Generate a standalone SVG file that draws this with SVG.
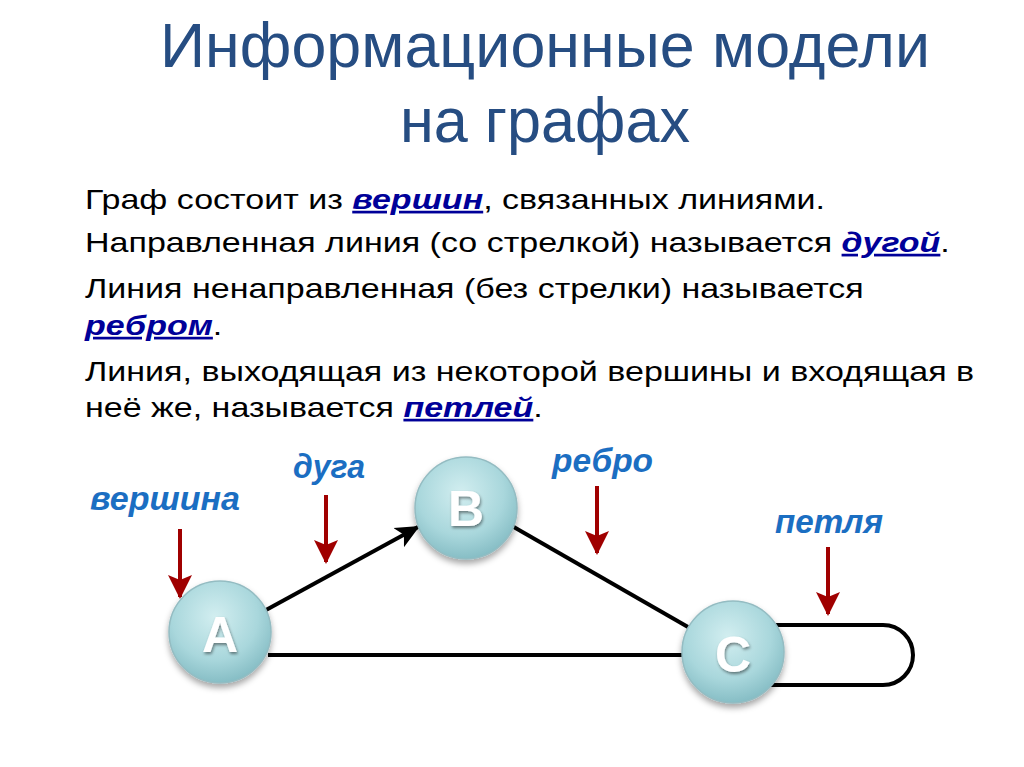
<svg xmlns="http://www.w3.org/2000/svg" width="1024" height="767" viewBox="0 0 1024 767">
<style>
.title{font-family:"Liberation Sans",Arial,sans-serif;font-size:63px;fill:#264d82}
.body{font-family:"Liberation Sans",Arial,sans-serif;font-size:27px;fill:#000}
.term{font-weight:bold;font-style:italic;fill:#000099;text-decoration:underline}
.lbl{font-family:"Liberation Sans",Arial,sans-serif;font-size:33px;font-weight:bold;font-style:italic;fill:#1b6ec2}
.edge{stroke:#000;stroke-width:4;fill:none}
.ptr{stroke:#a00000;stroke-width:4;fill:none}
.node circle{fill:url(#ng);stroke:#94bcc2;stroke-width:1.5;filter:url(#sh)}
.node text{font-family:"Liberation Sans",Arial,sans-serif;font-size:50px;font-weight:bold;fill:#fff;text-anchor:middle;filter:url(#tsh)}
</style>
<defs>
<radialGradient id="ng" cx="0.45" cy="0.35" r="0.7">
<stop offset="0" stop-color="#d2eef0"/>
<stop offset="0.6" stop-color="#a9d7dc"/>
<stop offset="1" stop-color="#7fb8c0"/>
</radialGradient>
<filter id="sh" x="-30%" y="-30%" width="160%" height="170%">
<feDropShadow dx="0" dy="4" stdDeviation="3" flood-color="#000" flood-opacity="0.35"/>
</filter>
<filter id="tsh" x="-30%" y="-30%" width="160%" height="160%">
<feDropShadow dx="1" dy="2" stdDeviation="1.5" flood-color="#000" flood-opacity="0.45"/>
</filter>
<marker id="ah" markerUnits="userSpaceOnUse" markerWidth="26" markerHeight="24" refX="22" refY="12" orient="auto">
<path d="M0,1 L24,12 L0,23 L6,12 Z" fill="#000"/>
</marker>
<marker id="rh" markerUnits="userSpaceOnUse" markerWidth="24" markerHeight="26" refX="22" refY="12" orient="auto">
<path d="M0,0 L24,12 L0,24 L5,12 Z" fill="#a00000"/>
</marker>
</defs>
<rect width="1024" height="767" fill="#fff"/>

<g id="title">
<text class="title" x="160" y="67" textLength="770" lengthAdjust="spacingAndGlyphs">Информационные модели</text>
<text class="title" x="400" y="142" textLength="290" lengthAdjust="spacingAndGlyphs">на графах</text>
</g>

<g id="body" transform="matrix(1.26,0,0,1,-22.1,0)">
<text class="body" x="85" y="209">Граф состоит из <tspan class="term">вершин</tspan>, связанных линиями.</text>
<text class="body" x="85" y="252">Направленная линия (со стрелкой) называется <tspan class="term">дугой</tspan>.</text>
<text class="body" x="85" y="298">Линия ненаправленная (без стрелки) называется</text>
<text class="body" x="85" y="335"><tspan class="term">ребром</tspan>.</text>
<text class="body" x="85" y="381">Линия, выходящая из некоторой вершины и входящая в</text>
<text class="body" x="85" y="417">неё же, называется <tspan class="term">петлей</tspan>.</text>
</g>

<g id="connectors">
<line class="edge" x1="266" y1="610" x2="418" y2="527" marker-end="url(#ah)"/>
<line class="edge" x1="512" y1="526" x2="688" y2="627"/>
<line class="edge" x1="268" y1="655" x2="686" y2="655"/>
<path class="edge" d="M776 625 H883 A30 30 0 0 1 883 685 H770"/>
</g>

<g id="pointers">
<line class="ptr" x1="180" y1="529" x2="180" y2="597" marker-end="url(#rh)"/>
<line class="ptr" x1="326" y1="495" x2="326" y2="562" marker-end="url(#rh)"/>
<line class="ptr" x1="597" y1="486" x2="597" y2="553" marker-end="url(#rh)"/>
<line class="ptr" x1="828" y1="547" x2="828" y2="614" marker-end="url(#rh)"/>
</g>

<g id="labels">
<text class="lbl" x="90" y="510" textLength="150" lengthAdjust="spacingAndGlyphs">вершина</text>
<text class="lbl" x="293" y="478" textLength="72" lengthAdjust="spacingAndGlyphs">дуга</text>
<text class="lbl" x="552" y="472" textLength="101" lengthAdjust="spacingAndGlyphs">ребро</text>
<text class="lbl" x="775" y="533" textLength="108" lengthAdjust="spacingAndGlyphs">петля</text>
</g>

<g id="node-A" class="node">
<circle cx="220" cy="632" r="51"/>
<text x="220" y="652">A</text>
</g>
<g id="node-B" class="node">
<circle cx="466" cy="508" r="51"/>
<text x="466" y="526">B</text>
</g>
<g id="node-C" class="node">
<circle cx="733" cy="652" r="51"/>
<text x="733" y="672">C</text>
</g>
</svg>
